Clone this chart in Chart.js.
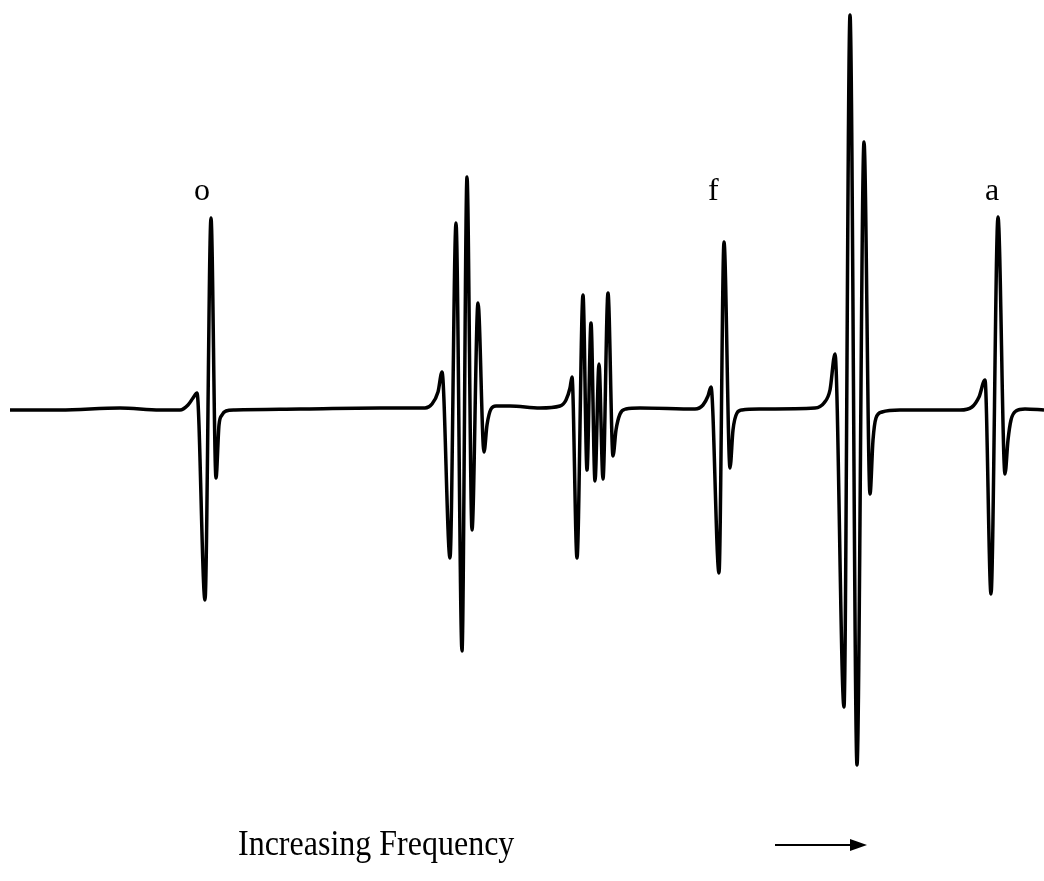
<!DOCTYPE html>
<html>
<head>
<meta charset="utf-8">
<script src="https://cdn.jsdelivr.net/npm/chart.js@4"></script>
<style>
  html, body { margin: 0; padding: 0; background: #fff; }
  #wrap { position: relative; width: 1044px; height: 881px; }
  .lbl { position: absolute; font-family: "Liberation Serif", "DejaVu Serif", serif; font-size: 32px; line-height: 32px; color: #000; }
  .titre { transform: scaleY(1.12); transform-origin: left bottom; }
</style>
</head>
<body>
<div id="wrap">
  <canvas id="spectre" width="1044" height="881"></canvas>
  <div class="lbl" style="left:194px; top:173px;">o</div>
  <div class="lbl" style="left:708px; top:173px;">f</div>
  <div class="lbl" style="left:985px; top:173px;">a</div>
  <div class="lbl titre" style="left:238px; top:829px;">Increasing Frequency</div>
  <svg style="position:absolute; left:0; top:0;" width="1044" height="881">
    <line x1="775" y1="845" x2="852" y2="845" stroke="#000" stroke-width="2"/>
    <polygon points="850,839 867,845 850,851" fill="#000"/>
  </svg>
</div>
<script>
// frequence (axe horizontal, unites arbitraires) et signal (0 = ligne de base)
const frequences = [
  10, 60, 120, 160, 180, 188, 193, 197, 205, 211, 216, 219, 222, 226, 235,
  300, 380, 425, 432, 438, 442, 450, 456, 462, 467, 472, 478, 484, 487, 491, 496, 510, 540,
  560, 566, 570, 572, 577, 583, 587, 591, 595, 599, 603, 608, 613, 616, 620, 626, 640,
  695, 703, 708, 711, 719, 724, 730, 733, 737, 742, 760,
  815, 824, 830, 835, 844, 850, 857, 864, 870, 873, 876, 882, 900,
  960, 972, 979, 985, 991, 998, 1005, 1008, 1011, 1016, 1025, 1044
];
const signal = [
  0, 0, 2, 0, 0, 5, 12, 17, -190, 192, -68, -15, -5, -1, 0,
  1, 2, 2, 6, 18, 38, -148, 187, -241, 233, -120, 107, -42, -15, 1, 4, 4, 2,
  4, 10, 22, 33, -148, 115, -60, 87, -71, 46, -69, 117, -46, -20, -4, 1, 2,
  1, 5, 14, 23, -163, 168, -58, -20, -3, 0, 1,
  2, 7, 20, 56, -297, 395, -355, 268, -84, -30, -8, -2, 0,
  0, 3, 13, 30, -184, 193, -64, -30, -10, -1, 1, 0
];
// etiquettes des raies
const etiquettes = ['o', 'f', 'a'];

const points = frequences.map((f, i) => ({ x: f, y: signal[i] }));

new Chart(document.getElementById('spectre'), {
  type: 'line',
  data: {
    datasets: [{
      data: points,
      borderColor: '#000',
      borderWidth: 3.5,
      pointRadius: 0,
      fill: false,
      cubicInterpolationMode: 'monotone'
    }]
  },
  options: {
    responsive: false,
    animation: false,
    layout: { padding: 0 },
    scales: {
      x: { type: 'linear', min: 0, max: 1044, display: false },
      y: { type: 'linear', min: -471, max: 410, display: false }
    },
    plugins: {
      legend: { display: false },
      tooltip: { enabled: false }
    }
  }
});
</script>
</body>
</html>
